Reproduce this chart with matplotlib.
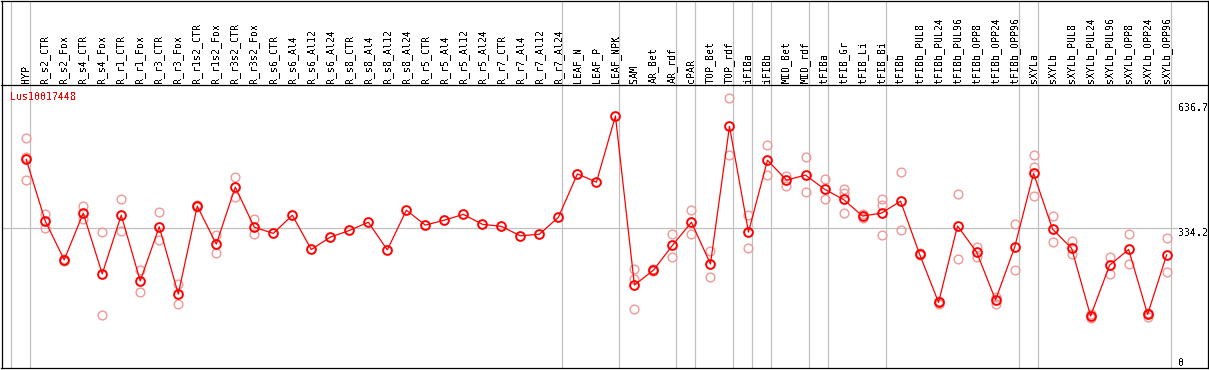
import matplotlib
matplotlib.use("Agg")
import matplotlib.pyplot as plt
import matplotlib.transforms as mtransforms

# Sample names along the x axis
SAMPLES = [
    'HYP', 'R_s2_CTR', 'R_s2_Fox', 'R_s4_CTR', 'R_s4_Fox', 'R_r1_CTR', 'R_r1_Fox',
    'R_r3_CTR', 'R_r3_Fox', 'R_r1s2_CTR', 'R_r1s2_Fox', 'R_r3s2_CTR', 'R_r3s2_Fox',
    'R_s6_CTR', 'R_s6_Al4', 'R_s6_Al12', 'R_s6_Al24', 'R_s8_CTR', 'R_s8_Al4',
    'R_s8_Al12', 'R_s8_Al24', 'R_r5_CTR', 'R_r5_Al4', 'R_r5_Al12', 'R_r5_Al24',
    'R_r7_CTR', 'R_r7_Al4', 'R_r7_Al12', 'R_r7_Al24', 'LEAF_N', 'LEAF_P', 'LEAF_NPK',
    'SAM', 'AR_Bet', 'AR_rdf', 'cPAR', 'TOP_Bet', 'TOP_rdf', 'iFIBa', 'iFIBb',
    'MID_Bet', 'MID_rdf', 'tFIBa', 'tFIB_Gr', 'tFIB_Li', 'tFIB_Bi', 'tFIBb',
    'tFIBb_PUL8', 'tFIBb_PUL24', 'tFIBb_PUL96', 'tFIBb_OPP8', 'tFIBb_OPP24',
    'tFIBb_OPP96', 'sXYLa', 'sXYLb', 'sXYLb_PUL8', 'sXYLb_PUL24', 'sXYLb_PUL96',
    'sXYLb_OPP8', 'sXYLb_OPP24', 'sXYLb_OPP96',
]

# Mean expression per sample
MEANS = [
    500, 351, 257, 370, 223, 365, 206, 337, 174, 387, 295, 433, 336,
    321, 365, 282, 312, 328, 348, 281, 377, 341, 353, 367, 343,
    338, 315, 319, 360, 465, 445, 605,
    196, 232, 292, 348, 247, 580, 324, 498, 450, 462, 428, 403, 363, 370, 399,
    271, 154, 339, 276, 160, 287, 466, 331, 285, 121, 244, 282, 125, 269,
]

# Individual replicate values per sample (empty where none shown)
REPLICATES = [
    [551, 507, 449], [368, 333], [254, 257, 260], [387, 355], [324, 123],
    [404, 327], [232, 178], [372, 304], [199, 149], [385, 387, 389],
    [317, 273], [457, 408], [356, 319],
    [], [], [], [], [], [], [], [], [], [], [], [],
    [], [], [], [], [], [], [],
    [234, 210, 137], [230, 232, 234], [320, 265], [378, 319], [278, 215],
    [648, 510], [365, 285], [534, 462], [461, 436], [505, 420], [453, 403],
    [428, 419, 370], [368, 363, 358], [403, 389, 316], [469, 328],
    [269, 271, 273], [158, 154, 149], [416, 258], [289, 263], [168, 151],
    [343, 232], [510, 481, 411], [363, 299], [303, 270], [125, 121, 116],
    [264, 222], [319, 246], [129, 125, 119], [309, 227],
]

# Index of the last sample in each tissue group (gray separators)
GROUP_ENDS = [-1, 0, 28, 31, 34, 35, 37, 38, 39, 41, 42, 45, 52, 53, 60]

Y_TICKS = [0, 334.2, 636.7]
Y_TICK_LABELS = ['0', '334.2', '636.7']
REFERENCE_LEVEL = 334.2
GENE_ID = 'Lus10017448'

W, H = 1209, 370
FONT = 'DejaVu Sans Mono'
RED = '#ff0000'
PINK = '#f09898'
GRAY = '#c0c0c0'

plt.rcParams['text.antialiased'] = False


def px(x0, y0, x1, y1):
    """figure-pixel box (top-left origin) -> axes rect"""
    return [x0 / W, (H - y1) / H, (x1 - x0) / W, (y1 - y0) / H]


fig = plt.figure(figsize=(W / 100, H / 100), dpi=100)
ax_head = fig.add_axes(px(1.5, 0.5, 1207.5, 85))
ax = fig.add_axes(px(1.5, 85, 1207.5, 368), sharex=ax_head)

n = len(SAMPLES)
x = list(range(n))
ax.set_xlim(-1.3, 62.15)
ax.set_ylim(-4.8, 680.1)
ax_head.set_ylim(0, 1)

for a in (ax, ax_head):
    a.set_xticks([])
    a.set_yticks([])
    for s in a.spines.values():
        s.set_linewidth(0.9)
        s.set_color('black')
    # group separators, drawn a few pixels right of the sample
    for g in GROUP_ENDS:
        a.axvline(g + 0.21, color=GRAY, linewidth=0.9, zorder=1)
ax_head.spines['bottom'].set_visible(False)

# reference line at the mid tick
ax.axhline(REFERENCE_LEVEL, xmax=0.975, color=GRAY, linewidth=0.9, zorder=1)

# replicates
for i, reps in enumerate(REPLICATES):
    ax.plot([x[i]] * len(reps), reps, linestyle='none', marker='o',
            markersize=6.3, markerfacecolor='none', markeredgecolor=PINK,
            markeredgewidth=1.0, zorder=2)

# mean line
ax.plot(x, MEANS, color=RED, linewidth=0.9, marker='o', markersize=6.3,
        markerfacecolor='none', markeredgecolor=RED, markeredgewidth=1.4, zorder=3)

# sample labels in the header
for i, name in enumerate(SAMPLES):
    ax_head.text(x[i], 0.025, name, rotation=90, ha='center', va='bottom',
                 fontsize=7.2, family=FONT, color='black')

# value labels on the right
trans = mtransforms.blended_transform_factory(ax.transAxes, ax.transData)
for v, lab in zip(Y_TICKS, Y_TICK_LABELS):
    ax.text(0.9755, v, lab, transform=trans, ha='left',
            va='baseline' if v == 0 else 'top',
            fontsize=7.2, family=FONT, color='black')

ax.text(0.007, 0.957, GENE_ID, transform=ax.transAxes, ha='left', va='center',
        fontsize=7.2, family=FONT, color=RED)

fig.savefig('out.png', dpi=100)
